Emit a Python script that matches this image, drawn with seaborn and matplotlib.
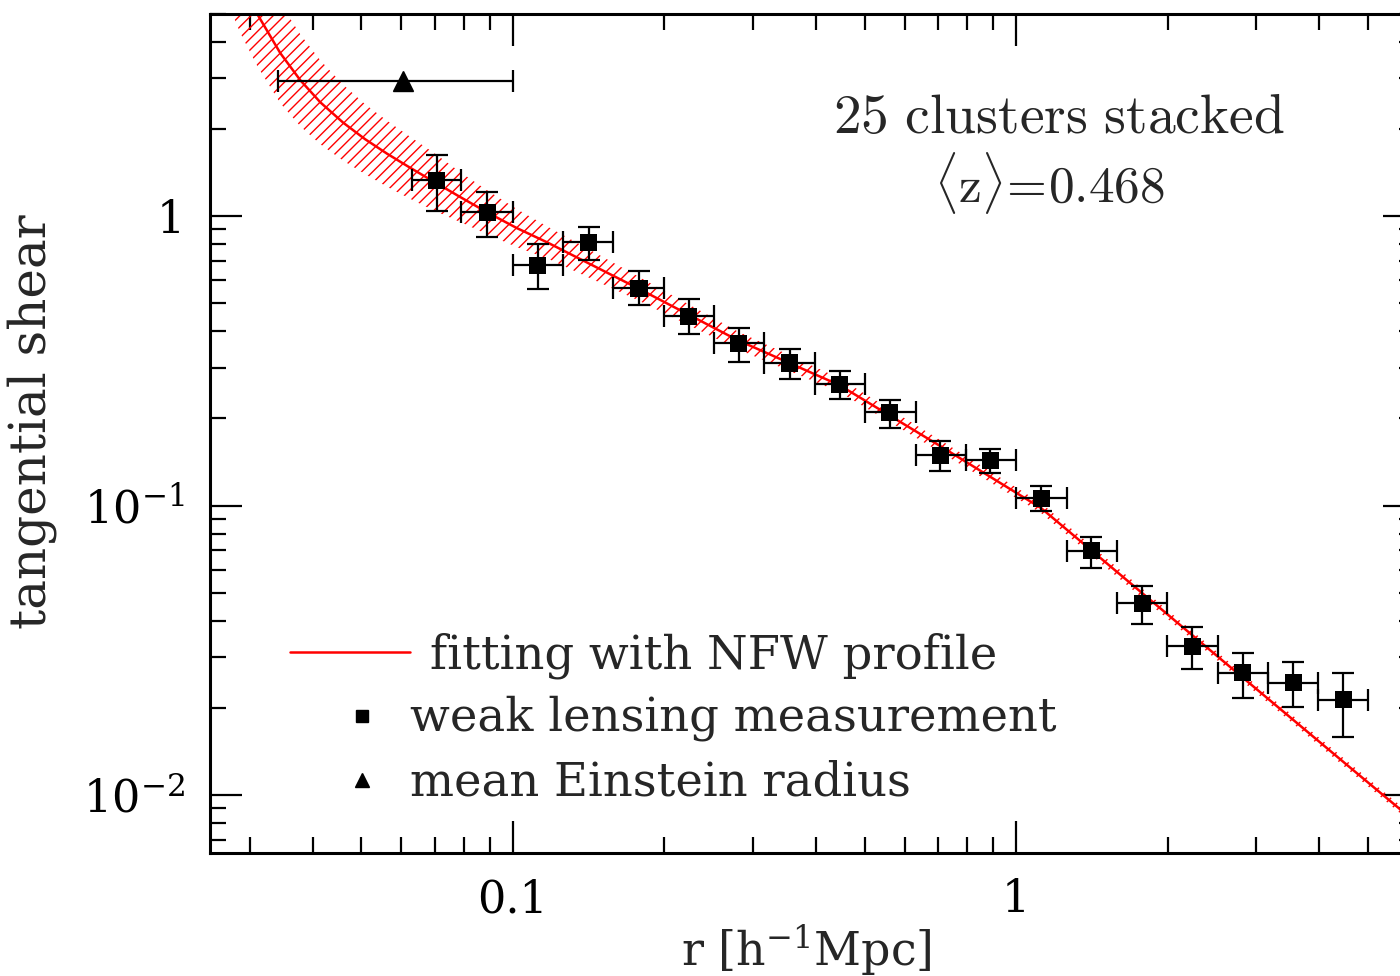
import matplotlib
matplotlib.use("Agg")
import matplotlib.pyplot as plt
from matplotlib.lines import Line2D
from matplotlib.ticker import NullFormatter
import seaborn as sns
import numpy as np

# stacked weak-lensing shear, radial bins (edges, centres) in h^-1 Mpc
r_edges = [0.063, 0.079, 0.100, 0.126, 0.158, 0.200, 0.251, 0.316, 0.398, 0.501,
           0.631, 0.794, 1.000, 1.259, 1.585, 1.995, 2.512, 3.162, 3.981, 5.012]
r_mid = [0.0706, 0.0888, 0.1121, 0.1415, 0.178, 0.2234, 0.281, 0.3545, 0.446, 0.561,
         0.707, 0.888, 1.121, 1.41, 1.78, 2.24, 2.82, 3.55, 4.47]
shear = [1.331, 1.032, 0.677, 0.813, 0.564, 0.4515, 0.364, 0.311, 0.263, 0.2104,
         0.1494, 0.1436, 0.1061, 0.0697, 0.0460, 0.0327, 0.0264, 0.0244, 0.0213]
shear_hi = [1.624, 1.210, 0.800, 0.916, 0.646, 0.517, 0.410, 0.347, 0.2914, 0.2314,
            0.167, 0.1567, 0.1168, 0.0778, 0.0527, 0.0380, 0.0309, 0.0288, 0.0264]
shear_lo = [1.040, 0.846, 0.560, 0.705, 0.493, 0.391, 0.313, 0.2735, 0.2333, 0.1852,
            0.1316, 0.1295, 0.0957, 0.0608, 0.0390, 0.0272, 0.0216, 0.0201, 0.0159]

# mean Einstein radius
ein_r, ein_r_lo, ein_r_hi = 0.0605, 0.0341, 0.100
ein_shear = 2.93

# NFW fit and its uncertainty band
nfw_r = [0.02505, 0.02683, 0.02873, 0.03105, 0.03449, 0.03780, 0.04141, 0.04600,
         0.05085, 0.05623, 0.06245, 0.06938, 0.07848, 0.0888, 0.1019, 0.1168,
         0.177, 0.2795, 0.4455, 0.713, 1.121, 1.778, 2.808, 4.52, 5.75, 6.19]
nfw_shear = [12.06, 8.84, 6.64, 4.99, 3.66, 2.95, 2.476, 2.104,
             1.845, 1.644, 1.471, 1.321, 1.166, 1.032, 0.909, 0.813,
             0.564, 0.373, 0.2607, 0.159, 0.098, 0.0499, 0.0256, 0.01279, 0.00902, 0.00807]
nfw_lo = [7.78, 5.71, 4.29, 3.30, 2.457, 2.046, 1.773, 1.555,
          1.397, 1.264, 1.149, 1.049, 0.9557, 0.8666, 0.7814, 0.7159,
          0.5127, 0.347, 0.2467, 0.1516, 0.0942, 0.0481, 0.0248, 0.01240, 0.00874, 0.0078]
nfw_hi = [18.67, 13.69, 10.28, 7.54, 5.44, 4.25, 3.458, 2.846,
          2.437, 2.137, 1.882, 1.664, 1.422, 1.230, 1.057, 0.9236,
          0.6205, 0.400, 0.2755, 0.1668, 0.1020, 0.0517, 0.0264, 0.01320, 0.00931, 0.0083]


sns.set_theme(style="ticks")
plt.rcParams["font.family"] = ["DejaVu Serif"]
plt.rcParams["mathtext.fontset"] = "dejavuserif"
plt.rcParams["hatch.linewidth"] = 1.0

fig = plt.figure(figsize=(14, 9.76), dpi=100)
ax = fig.add_axes([0.15, 0.126, 0.8607, 0.8597])
ax.set(xscale="log", yscale="log")

# band + fit
ax.fill_between(nfw_r, nfw_lo, nfw_hi, facecolor="none", edgecolor="red",
                hatch="///", linewidth=0, zorder=1)
sns.lineplot(x=nfw_r, y=nfw_shear, color="red", lw=1.8, ax=ax,
             estimator=None, sort=False, zorder=2)

# measurements
r_mid_a = np.array(r_mid)
shear_a = np.array(shear)
xerr = [r_mid_a - np.array(r_edges[:-1]), np.array(r_edges[1:]) - r_mid_a]
yerr = [shear_a - np.array(shear_lo), np.array(shear_hi) - shear_a]
ax.errorbar(r_mid, shear, xerr=xerr, yerr=yerr, fmt="none", ecolor="black",
            elinewidth=1.6, capsize=8, capthick=1.6, zorder=3)
sns.scatterplot(x=r_mid, y=shear, marker="s", s=150, color="black",
                edgecolor="none", ax=ax, zorder=4)

ax.errorbar([ein_r], [ein_shear], xerr=[[ein_r - ein_r_lo], [ein_r_hi - ein_r]],
            fmt="^", color="black", ms=15, elinewidth=1.6, capsize=8,
            capthick=1.6, zorder=4)

ax.set_xlim(0.025, 6.2)
ax.set_ylim(0.0063, 5.0)

ax.set_xticks([0.1, 1], labels=["0.1", "1"])
ax.set_yticks([0.01, 0.1, 1], labels=[r"$10^{-2}$", r"$10^{-1}$", "1"])
ax.xaxis.set_minor_formatter(NullFormatter())
ax.yaxis.set_minor_formatter(NullFormatter())
ax.tick_params(which="both", direction="in", top=True, right=True,
               width=1.6, colors="black", labelsize=32)
ax.tick_params(which="major", length=23)
ax.tick_params(which="minor", length=11.5)
ax.tick_params(axis="x", which="major", pad=18)
ax.tick_params(axis="y", which="major", pad=18)
for sp in ax.spines.values():
    sp.set_linewidth(2.2)
    sp.set_color("black")

ax.set_xlabel(r"r [h$^{-1}$Mpc]", fontsize=33)
ax.set_ylabel("tangential shear", fontsize=36)
ax.xaxis.set_label_coords(0.4946, -0.083)
ax.yaxis.set_label_coords(-0.127, 0.514)

ax.text(0.7046, 0.876, r"$\mathrm{25\ clusters\ stacked}$", transform=ax.transAxes,
        ha="center", va="center", fontsize=40, math_fontfamily="cm")
ax.text(0.697, 0.7986, r"$\langle \mathrm{z} \rangle\!=\!0.468$", transform=ax.transAxes,
        ha="center", va="center", fontsize=37, math_fontfamily="cm")

# hand-placed key
ax.add_line(Line2D([0.0664, 0.166], [0.2396, 0.2396], color="red", lw=1.8,
                   transform=ax.transAxes))
ax.plot([0.1261], [0.1633], "s", color="black", ms=9, transform=ax.transAxes)
ax.plot([0.1261], [0.087], "^", color="black", ms=10, transform=ax.transAxes)
ax.text(0.1826, 0.2205, "fitting with NFW profile", transform=ax.transAxes,
        fontsize=33.5, va="baseline")
ax.text(0.166, 0.1466, "weak lensing measurement", transform=ax.transAxes,
        fontsize=33.5, va="baseline")
ax.text(0.166, 0.0691, "mean Einstein radius", transform=ax.transAxes,
        fontsize=33.5, va="baseline")

fig.savefig("out.png", dpi=100)
